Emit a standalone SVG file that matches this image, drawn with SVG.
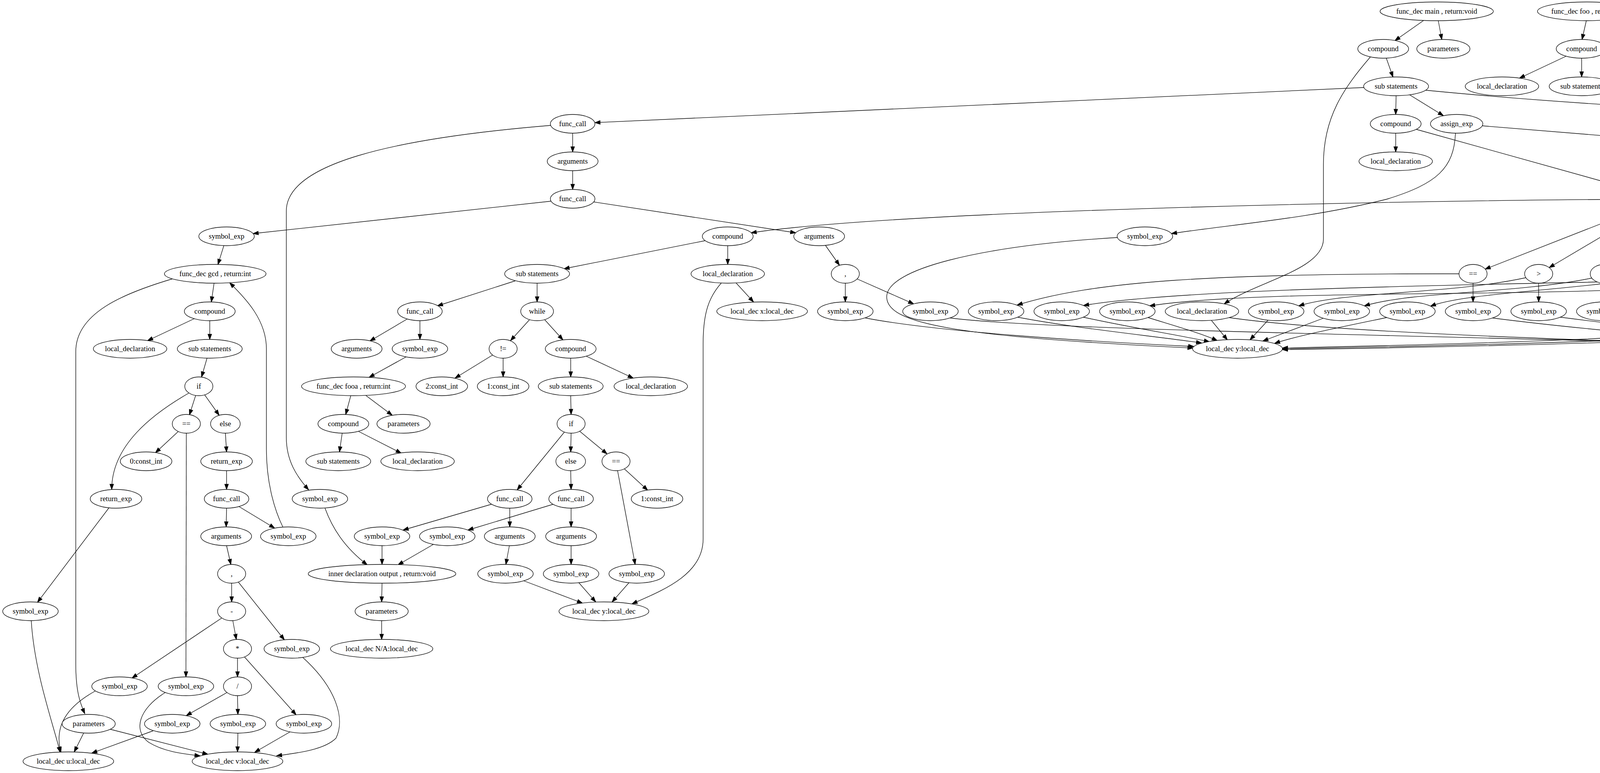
<svg xmlns="http://www.w3.org/2000/svg" width="6137" height="1979" viewBox="0 0 6137 1979">
<style>
ellipse{fill:#fff;stroke:#000;stroke-width:1.33}
text{font-family:"Liberation Serif","Times New Roman",serif;font-size:18.67px;text-anchor:middle;fill:#000}
#edges path{fill:none;stroke:#000;stroke-width:1.33;marker-end:url(#ah)}
</style>
<defs>
<marker id="ah" markerUnits="userSpaceOnUse" markerWidth="16" markerHeight="12" refX="13.3" refY="4.67" orient="auto" overflow="visible"><path d="M0,0 L13.3,4.67 L0,9.33 Z" fill="#000" stroke="#000" stroke-width="1.33"/></marker>
</defs>
<rect width="6137" height="1979" fill="#fff"/>
<g id="edges">
<path d="M3645,52 L3571,104"/>
<path d="M3682,53 L3691,101"/>
<path d="M3549,149 L3566,197"/>
<path d="M3508,146 C3440,225 3388,300 3388,420 L3388,612 C3388,690 3220,720 3134,778"/>
<path d="M3492,224 L1523,314"/>
<path d="M3574,245 L3573,293"/>
<path d="M3609,243 L3695,296"/>
<path d="M3650,231 C4100,275 4700,305 5306,315"/>
<path d="M1466,341 L1466,389"/>
<path d="M1410,321 C1000,355 733,420 733,540 L733,1120 C733,1180 760,1220 790,1254"/>
<path d="M1466,437 L1466,485"/>
<path d="M1411,515 L648,598"/>
<path d="M1520,517 L2037,596"/>
<path d="M573,629 L558,677"/>
<path d="M548,725 L541,773"/>
<path d="M441,714 C320,750 194,800 194,900 L194,1700 C194,1770 205,1800 217,1827"/>
<path d="M724,1349 C700,1300 682,1230 682,1150 L682,893 C682,820 630,765 588,724"/>
<path d="M497,816 L378,872"/>
<path d="M537,821 L537,869"/>
<path d="M530,917 L516,965"/>
<path d="M501,1012 L485,1062"/>
<path d="M524,1011 L561,1063"/>
<path d="M484,1006 C390,1060 286,1140 286,1253"/>
<path d="M456,1105 L398,1159"/>
<path d="M477,1109 L476,1733"/>
<path d="M577,1109 L580,1157"/>
<path d="M580,1205 L580,1253"/>
<path d="M580,1301 L579,1349"/>
<path d="M612,1297 L703,1352"/>
<path d="M580,1397 L591,1445"/>
<path d="M593,1493 L593,1541"/>
<path d="M610,1490 L728,1638"/>
<path d="M596,1589 L605,1637"/>
<path d="M568,1582 L338,1736"/>
<path d="M608,1685 L608,1733"/>
<path d="M626,1682 L758,1830"/>
<path d="M581,1773 L477,1832"/>
<path d="M608,1781 L609,1829"/>
<path d="M279,1300 L96,1542"/>
<path d="M80,1589 C88,1720 135,1850 154,1926"/>
<path d="M244,1769 C170,1810 138,1860 156,1926"/>
<path d="M214,1877 L190,1925"/>
<path d="M282,1867 L532,1931"/>
<path d="M392,1871 L235,1928"/>
<path d="M423,1773 C355,1815 340,1870 380,1900 C420,1925 470,1930 512,1935"/>
<path d="M609,1877 L608,1925"/>
<path d="M742,1874 L652,1926"/>
<path d="M775,1683 C860,1760 885,1840 860,1890 C830,1920 760,1928 708,1935"/>
<path d="M4179,510 C3500,515 2300,540 1923,596"/>
<path d="M1806,616 L1444,688"/>
<path d="M1863,629 L1863,677"/>
<path d="M1884,724 L1929,773"/>
<path d="M1847,724 C1815,760 1800,800 1800,880 L1800,1380 C1800,1470 1700,1510 1618,1546"/>
<path d="M1319,719 L1120,783"/>
<path d="M1375,725 L1375,773"/>
<path d="M1042,817 L947,873"/>
<path d="M1075,821 L1075,869"/>
<path d="M1039,914 L945,966"/>
<path d="M898,1013 L885,1061"/>
<path d="M936,1012 L1004,1063"/>
<path d="M876,1109 L869,1157"/>
<path d="M917,1104 L1027,1160"/>
<path d="M1356,818 L1307,872"/>
<path d="M1394,818 L1441,870"/>
<path d="M1261,909 L1165,968"/>
<path d="M1288,917 L1288,965"/>
<path d="M1461,917 L1461,965"/>
<path d="M1501,912 L1621,968"/>
<path d="M1461,1013 L1462,1061"/>
<path d="M1445,1106 L1324,1254"/>
<path d="M1462,1109 L1461,1157"/>
<path d="M1484,1104 L1554,1162"/>
<path d="M1461,1205 L1462,1253"/>
<path d="M1598,1200 L1658,1255"/>
<path d="M1581,1205 L1626,1445"/>
<path d="M1258,1291 L1032,1357"/>
<path d="M1305,1301 L1305,1349"/>
<path d="M1416,1291 L1198,1357"/>
<path d="M1462,1301 L1462,1349"/>
<path d="M1304,1397 L1295,1445"/>
<path d="M1462,1397 L1462,1445"/>
<path d="M978,1397 L978,1445"/>
<path d="M1109,1394 L1019,1446"/>
<path d="M832,1301 C850,1350 880,1400 940,1446"/>
<path d="M978,1493 L977,1541"/>
<path d="M977,1589 L977,1637"/>
<path d="M1341,1487 L1491,1544"/>
<path d="M1482,1492 L1525,1541"/>
<path d="M1610,1492 L1567,1541"/>
<path d="M2113,628 L2149,679"/>
<path d="M2164,725 L2164,773"/>
<path d="M2194,714 L2339,778"/>
<path d="M2861,608 C2500,630 2270,690 2270,760 C2270,830 2450,862 3054,891"/>
<path d="M2215,814 C2400,850 2800,875 3056,887"/>
<path d="M2432,814 C2700,850 4000,862 4660,892"/>
<path d="M3735,701 C3100,700 2800,720 2604,781"/>
<path d="M4208,712 C4000,745 3750,750 3662,784"/>
<path d="M4480,711 C4150,775 3300,730 2943,783"/>
<path d="M3906,711 C3700,755 3450,745 3325,783"/>
<path d="M4075,712 C3880,752 3620,745 3493,783"/>
<path d="M4308,717 C3900,728 3050,735 2774,782"/>
<path d="M3771,725 L3771,773"/>
<path d="M3939,725 L3939,773"/>
<path d="M4107,725 L4107,773"/>
<path d="M4249,724 L4267,773"/>
<path d="M4357,720 L4418,775"/>
<path d="M4533,721 L4584,774"/>
<path d="M4513,629 L4513,677"/>
<path d="M4548,611 L5041,690"/>
<path d="M4312,528 L4482,593"/>
<path d="M4213,528 L3802,689"/>
<path d="M4226,531 L3966,685"/>
<path d="M4243,532 L4124,680"/>
<path d="M4259,533 L4243,677"/>
<path d="M4271,533 L4326,678"/>
<path d="M4335,520 C4550,550 4700,600 4748,682"/>
<path d="M4340,517 C4650,550 4850,600 4916,682"/>
<path d="M4342,516 C4700,550 5050,620 5247,684"/>
<path d="M4343,514 C4800,560 5200,640 5565,691"/>
<path d="M4769,725 L4769,773"/>
<path d="M4802,711 L5051,782"/>
<path d="M4937,725 L4937,773"/>
<path d="M4970,709 C5100,740 5300,745 5388,781"/>
<path d="M5273,725 L5273,773"/>
<path d="M5307,709 L5602,783"/>
<path d="M5629,714 L5783,778"/>
<path d="M5624,718 C5700,750 5860,755 5937,783"/>
<path d="M5516,627 L5677,684"/>
<path d="M5373,341 L5373,389"/>
<path d="M5435,326 L5992,404"/>
<path d="M5354,436 L5312,486"/>
<path d="M5392,436 L5434,486"/>
<path d="M5453,533 L5452,581"/>
<path d="M4902,437 L4901,485"/>
<path d="M4940,431 L5067,490"/>
<path d="M5164,524 L5375,584"/>
<path d="M3794,322 L4846,408"/>
<path d="M3726,341 C3722,430 3680,470 3550,510 C3350,560 3150,575 2999,598"/>
<path d="M6068,437 C6095,530 6108,620 6108,720 C6108,790 6100,820 6040,832 C5700,860 5200,880 4889,890"/>
<path d="M5165,714 C5450,745 5560,770 5545,810 C5520,850 5200,870 4886,887"/>
<path d="M3573,341 L3573,389"/>
<path d="M3625,331 L4202,492"/>
<path d="M4061,53 L4050,101"/>
<path d="M4132,49 L4347,110"/>
<path d="M4009,144 L3890,200"/>
<path d="M4049,149 L4049,197"/>
<path d="M4371,147 L4303,198"/>
<path d="M4429,147 L4497,198"/>
<path d="M4456,139 L4711,203"/>
<path d="M5240,53 L5203,102"/>
<path d="M5278,53 L5320,102"/>
<path d="M5151,145 L5059,199"/>
<path d="M5196,149 L5215,197"/>
<path d="M5603,53 L5563,102"/>
<path d="M5641,53 L5680,102"/>
<path d="M5535,149 L5516,197"/>
<path d="M5580,145 L5673,200"/>
<path d="M2605,812 C2750,840 2950,860 3076,878"/>
<path d="M2773,812 C2900,840 3020,858 3096,875"/>
<path d="M2939,813 C3010,835 3080,855 3116,872"/>
<path d="M3101,820 L3142,870"/>
<path d="M3146,813 C3400,850 4000,870 4661,890"/>
<path d="M3246,820 L3200,870"/>
<path d="M3387,815 L3233,873"/>
<path d="M3550,813 C3420,840 3320,860 3263,879"/>
<path d="M3820,814 C4100,850 4450,875 4662,888"/>
<path d="M3994,812 C4250,845 4500,870 4664,887"/>
<path d="M4160,813 C4400,840 4580,860 4670,883"/>
<path d="M4330,812 C4500,835 4620,855 4686,878"/>
<path d="M4496,813 L4713,873"/>
<path d="M4715,813 C4500,860 3800,880 3283,891"/>
<path d="M4880,812 C4600,865 3900,882 3283,893"/>
<path d="M5218,812 C4950,855 4000,885 3283,895"/>
<path d="M5050,812 L4846,874"/>
<path d="M5388,812 C5200,860 5000,880 4889,889"/>
<path d="M5603,812 C5400,865 5100,880 4890,890"/>
<path d="M5775,812 C5500,865 5150,884 4890,891"/>
<path d="M5940,811 C5650,868 5200,886 4890,892"/>
</g>
<g id="n1"><ellipse cx="3678" cy="29" rx="145" ry="24"/><text x="3678" y="35">func_dec main , return:void</text></g>
<g id="n2"><ellipse cx="3541" cy="125" rx="65" ry="24"/><text x="3541" y="131">compound</text></g>
<g id="n3"><ellipse cx="3695" cy="125" rx="68" ry="24"/><text x="3695" y="131">parameters</text></g>
<g id="n4"><ellipse cx="3574" cy="221" rx="83" ry="24"/><text x="3574" y="227">sub statements</text></g>
<g id="n5"><ellipse cx="1466" cy="317" rx="57" ry="24"/><text x="1466" y="323">func_call</text></g>
<g id="n6"><ellipse cx="3573" cy="317" rx="65" ry="24"/><text x="3573" y="323">compound</text></g>
<g id="n7"><ellipse cx="3729" cy="317" rx="67" ry="24"/><text x="3729" y="323">assign_exp</text></g>
<g id="n8"><ellipse cx="5373" cy="317" rx="67" ry="24"/><text x="5373" y="323">assign_exp</text></g>
<g id="n9"><ellipse cx="1466" cy="413" rx="65" ry="24"/><text x="1466" y="419">arguments</text></g>
<g id="n10"><ellipse cx="3573" cy="413" rx="94" ry="24"/><text x="3573" y="419">local_declaration</text></g>
<g id="n11"><ellipse cx="4902" cy="413" rx="57" ry="24"/><text x="4902" y="419">func_call</text></g>
<g id="n12"><ellipse cx="5373" cy="413" rx="57" ry="24"/><text x="5373" y="419">func_call</text></g>
<g id="n13"><ellipse cx="6058" cy="413" rx="71" ry="24"/><text x="6058" y="419">symbol_exp</text></g>
<g id="n14"><ellipse cx="1466" cy="509" rx="57" ry="24"/><text x="1466" y="515">func_call</text></g>
<g id="n15"><ellipse cx="4262" cy="509" rx="83" ry="24"/><text x="4262" y="515">sub statements</text></g>
<g id="n16"><ellipse cx="4901" cy="509" rx="65" ry="24"/><text x="4901" y="515">arguments</text></g>
<g id="n17"><ellipse cx="5109" cy="509" rx="71" ry="24"/><text x="5109" y="515">symbol_exp</text></g>
<g id="n18"><ellipse cx="5293" cy="509" rx="65" ry="24"/><text x="5293" y="515">arguments</text></g>
<g id="n19"><ellipse cx="5453" cy="509" rx="71" ry="24"/><text x="5453" y="515">symbol_exp</text></g>
<g id="n20"><ellipse cx="580" cy="605" rx="71" ry="24"/><text x="580" y="611">symbol_exp</text></g>
<g id="n21"><ellipse cx="1863" cy="605" rx="65" ry="24"/><text x="1863" y="611">compound</text></g>
<g id="n22"><ellipse cx="2097" cy="605" rx="65" ry="24"/><text x="2097" y="611">arguments</text></g>
<g id="n23"><ellipse cx="2931" cy="605" rx="71" ry="24"/><text x="2931" y="611">symbol_exp</text></g>
<g id="n24"><ellipse cx="4513" cy="605" rx="36" ry="24"/><text x="4513" y="611">&gt;=</text></g>
<g id="n25"><ellipse cx="5452" cy="605" rx="174" ry="24"/><text x="5452" y="611">inner declaration input , return:int</text></g>
<g id="n26"><ellipse cx="551" cy="701" rx="130" ry="24"/><text x="551" y="707">func_dec gcd , return:int</text></g>
<g id="n27"><ellipse cx="1375" cy="701" rx="83" ry="24"/><text x="1375" y="707">sub statements</text></g>
<g id="n28"><ellipse cx="1863" cy="701" rx="94" ry="24"/><text x="1863" y="707">local_declaration</text></g>
<g id="n29"><ellipse cx="2164" cy="701" rx="36" ry="24"/><text x="2164" y="707">,</text></g>
<g id="n30"><ellipse cx="3771" cy="701" rx="36" ry="24"/><text x="3771" y="707">==</text></g>
<g id="n31"><ellipse cx="3939" cy="701" rx="36" ry="24"/><text x="3939" y="707">&gt;</text></g>
<g id="n32"><ellipse cx="4107" cy="701" rx="36" ry="24"/><text x="4107" y="707">&lt;</text></g>
<g id="n33"><ellipse cx="4240" cy="701" rx="36" ry="24"/><text x="4240" y="707">-</text></g>
<g id="n34"><ellipse cx="4335" cy="701" rx="36" ry="24"/><text x="4335" y="707">/</text></g>
<g id="n35"><ellipse cx="4513" cy="701" rx="36" ry="24"/><text x="4513" y="707">*</text></g>
<g id="n36"><ellipse cx="4769" cy="701" rx="36" ry="24"/><text x="4769" y="707">+</text></g>
<g id="n37"><ellipse cx="4937" cy="701" rx="36" ry="24"/><text x="4937" y="707">&lt;=</text></g>
<g id="n38"><ellipse cx="5105" cy="701" rx="71" ry="24"/><text x="5105" y="707">symbol_exp</text></g>
<g id="n39"><ellipse cx="5273" cy="701" rx="36" ry="24"/><text x="5273" y="707">*</text></g>
<g id="n40"><ellipse cx="5598" cy="701" rx="36" ry="24"/><text x="5598" y="707">!=</text></g>
<g id="n41"><ellipse cx="5725" cy="701" rx="68" ry="24"/><text x="5725" y="707">parameters</text></g>
<g id="n42"><ellipse cx="537" cy="797" rx="65" ry="24"/><text x="537" y="803">compound</text></g>
<g id="n43"><ellipse cx="1075" cy="797" rx="57" ry="24"/><text x="1075" y="803">func_call</text></g>
<g id="n44"><ellipse cx="1375" cy="797" rx="42" ry="24"/><text x="1375" y="803">while</text></g>
<g id="n45"><ellipse cx="1951" cy="797" rx="116" ry="24"/><text x="1951" y="803">local_dec x:local_dec</text></g>
<g id="n46"><ellipse cx="2164" cy="797" rx="71" ry="24"/><text x="2164" y="803">symbol_exp</text></g>
<g id="n47"><ellipse cx="2382" cy="797" rx="71" ry="24"/><text x="2382" y="803">symbol_exp</text></g>
<g id="n48"><ellipse cx="2550" cy="797" rx="71" ry="24"/><text x="2550" y="803">symbol_exp</text></g>
<g id="n49"><ellipse cx="2718" cy="797" rx="71" ry="24"/><text x="2718" y="803">symbol_exp</text></g>
<g id="n50"><ellipse cx="2886" cy="797" rx="71" ry="24"/><text x="2886" y="803">symbol_exp</text></g>
<g id="n51"><ellipse cx="3077" cy="797" rx="94" ry="24"/><text x="3077" y="803">local_declaration</text></g>
<g id="n52"><ellipse cx="3267" cy="797" rx="71" ry="24"/><text x="3267" y="803">symbol_exp</text></g>
<g id="n53"><ellipse cx="3435" cy="797" rx="71" ry="24"/><text x="3435" y="803">symbol_exp</text></g>
<g id="n54"><ellipse cx="3603" cy="797" rx="71" ry="24"/><text x="3603" y="803">symbol_exp</text></g>
<g id="n55"><ellipse cx="3771" cy="797" rx="71" ry="24"/><text x="3771" y="803">symbol_exp</text></g>
<g id="n56"><ellipse cx="3939" cy="797" rx="71" ry="24"/><text x="3939" y="803">symbol_exp</text></g>
<g id="n57"><ellipse cx="4107" cy="797" rx="71" ry="24"/><text x="4107" y="803">symbol_exp</text></g>
<g id="n58"><ellipse cx="4276" cy="797" rx="71" ry="24"/><text x="4276" y="803">symbol_exp</text></g>
<g id="n59"><ellipse cx="4443" cy="797" rx="71" ry="24"/><text x="4443" y="803">symbol_exp</text></g>
<g id="n60"><ellipse cx="4606" cy="797" rx="66" ry="24"/><text x="4606" y="803">2:const_int</text></g>
<g id="n61"><ellipse cx="4769" cy="797" rx="71" ry="24"/><text x="4769" y="803">symbol_exp</text></g>
<g id="n62"><ellipse cx="4937" cy="797" rx="71" ry="24"/><text x="4937" y="803">symbol_exp</text></g>
<g id="n63"><ellipse cx="5105" cy="797" rx="71" ry="24"/><text x="5105" y="803">symbol_exp</text></g>
<g id="n64"><ellipse cx="5273" cy="797" rx="71" ry="24"/><text x="5273" y="803">symbol_exp</text></g>
<g id="n65"><ellipse cx="5441" cy="797" rx="71" ry="24"/><text x="5441" y="803">symbol_exp</text></g>
<g id="n66"><ellipse cx="5659" cy="797" rx="71" ry="24"/><text x="5659" y="803">symbol_exp</text></g>
<g id="n67"><ellipse cx="5828" cy="797" rx="71" ry="24"/><text x="5828" y="803">symbol_exp</text></g>
<g id="n68"><ellipse cx="5995" cy="797" rx="71" ry="24"/><text x="5995" y="803">symbol_exp</text></g>
<g id="n69"><ellipse cx="333" cy="893" rx="94" ry="24"/><text x="333" y="899">local_declaration</text></g>
<g id="n70"><ellipse cx="537" cy="893" rx="83" ry="24"/><text x="537" y="899">sub statements</text></g>
<g id="n71"><ellipse cx="913" cy="893" rx="65" ry="24"/><text x="913" y="899">arguments</text></g>
<g id="n72"><ellipse cx="1075" cy="893" rx="71" ry="24"/><text x="1075" y="899">symbol_exp</text></g>
<g id="n73"><ellipse cx="1288" cy="893" rx="36" ry="24"/><text x="1288" y="899">!=</text></g>
<g id="n74"><ellipse cx="1461" cy="893" rx="65" ry="24"/><text x="1461" y="899">compound</text></g>
<g id="n75"><ellipse cx="3168" cy="893" rx="115" ry="24"/><text x="3168" y="899">local_dec y:local_dec</text></g>
<g id="n76"><ellipse cx="4775" cy="893" rx="115" ry="24"/><text x="4775" y="899">local_dec x:local_dec</text></g>
<g id="n77"><ellipse cx="509" cy="989" rx="36" ry="24"/><text x="509" y="995">if</text></g>
<g id="n78"><ellipse cx="905" cy="989" rx="133" ry="24"/><text x="905" y="995">func_dec fooa , return:int</text></g>
<g id="n79"><ellipse cx="1131" cy="989" rx="66" ry="24"/><text x="1131" y="995">2:const_int</text></g>
<g id="n80"><ellipse cx="1288" cy="989" rx="66" ry="24"/><text x="1288" y="995">1:const_int</text></g>
<g id="n81"><ellipse cx="1461" cy="989" rx="83" ry="24"/><text x="1461" y="995">sub statements</text></g>
<g id="n82"><ellipse cx="1666" cy="989" rx="94" ry="24"/><text x="1666" y="995">local_declaration</text></g>
<g id="n83"><ellipse cx="477" cy="1085" rx="36" ry="24"/><text x="477" y="1091">==</text></g>
<g id="n84"><ellipse cx="577" cy="1085" rx="38" ry="24"/><text x="577" y="1091">else</text></g>
<g id="n85"><ellipse cx="879" cy="1085" rx="65" ry="24"/><text x="879" y="1091">compound</text></g>
<g id="n86"><ellipse cx="1033" cy="1085" rx="68" ry="24"/><text x="1033" y="1091">parameters</text></g>
<g id="n87"><ellipse cx="1462" cy="1085" rx="36" ry="24"/><text x="1462" y="1091">if</text></g>
<g id="n88"><ellipse cx="374" cy="1181" rx="66" ry="24"/><text x="374" y="1187">0:const_int</text></g>
<g id="n89"><ellipse cx="580" cy="1181" rx="66" ry="24"/><text x="580" y="1187">return_exp</text></g>
<g id="n90"><ellipse cx="866" cy="1181" rx="83" ry="24"/><text x="866" y="1187">sub statements</text></g>
<g id="n91"><ellipse cx="1069" cy="1181" rx="94" ry="24"/><text x="1069" y="1187">local_declaration</text></g>
<g id="n92"><ellipse cx="1461" cy="1181" rx="38" ry="24"/><text x="1461" y="1187">else</text></g>
<g id="n93"><ellipse cx="1577" cy="1181" rx="36" ry="24"/><text x="1577" y="1187">==</text></g>
<g id="n94"><ellipse cx="297" cy="1277" rx="66" ry="24"/><text x="297" y="1283">return_exp</text></g>
<g id="n95"><ellipse cx="580" cy="1277" rx="57" ry="24"/><text x="580" y="1283">func_call</text></g>
<g id="n96"><ellipse cx="819" cy="1277" rx="71" ry="24"/><text x="819" y="1283">symbol_exp</text></g>
<g id="n97"><ellipse cx="1305" cy="1277" rx="57" ry="24"/><text x="1305" y="1283">func_call</text></g>
<g id="n98"><ellipse cx="1462" cy="1277" rx="57" ry="24"/><text x="1462" y="1283">func_call</text></g>
<g id="n99"><ellipse cx="1682" cy="1277" rx="66" ry="24"/><text x="1682" y="1283">1:const_int</text></g>
<g id="n100"><ellipse cx="579" cy="1373" rx="65" ry="24"/><text x="579" y="1379">arguments</text></g>
<g id="n101"><ellipse cx="738" cy="1373" rx="71" ry="24"/><text x="738" y="1379">symbol_exp</text></g>
<g id="n102"><ellipse cx="978" cy="1373" rx="71" ry="24"/><text x="978" y="1379">symbol_exp</text></g>
<g id="n103"><ellipse cx="1145" cy="1373" rx="71" ry="24"/><text x="1145" y="1379">symbol_exp</text></g>
<g id="n104"><ellipse cx="1305" cy="1373" rx="65" ry="24"/><text x="1305" y="1379">arguments</text></g>
<g id="n105"><ellipse cx="1462" cy="1373" rx="65" ry="24"/><text x="1462" y="1379">arguments</text></g>
<g id="n106"><ellipse cx="593" cy="1469" rx="36" ry="24"/><text x="593" y="1475">,</text></g>
<g id="n107"><ellipse cx="978" cy="1469" rx="189" ry="24"/><text x="978" y="1475">inner declaration output , return:void</text></g>
<g id="n108"><ellipse cx="1294" cy="1469" rx="71" ry="24"/><text x="1294" y="1475">symbol_exp</text></g>
<g id="n109"><ellipse cx="1462" cy="1469" rx="71" ry="24"/><text x="1462" y="1475">symbol_exp</text></g>
<g id="n110"><ellipse cx="1630" cy="1469" rx="71" ry="24"/><text x="1630" y="1475">symbol_exp</text></g>
<g id="n111"><ellipse cx="78" cy="1565" rx="71" ry="24"/><text x="78" y="1571">symbol_exp</text></g>
<g id="n112"><ellipse cx="593" cy="1565" rx="36" ry="24"/><text x="593" y="1571">-</text></g>
<g id="n113"><ellipse cx="977" cy="1565" rx="68" ry="24"/><text x="977" y="1571">parameters</text></g>
<g id="n114"><ellipse cx="1546" cy="1565" rx="115" ry="24"/><text x="1546" y="1571">local_dec y:local_dec</text></g>
<g id="n115"><ellipse cx="608" cy="1661" rx="36" ry="24"/><text x="608" y="1667">*</text></g>
<g id="n116"><ellipse cx="747" cy="1661" rx="71" ry="24"/><text x="747" y="1667">symbol_exp</text></g>
<g id="n117"><ellipse cx="977" cy="1661" rx="131" ry="24"/><text x="977" y="1667">local_dec N/A:local_dec</text></g>
<g id="n118"><ellipse cx="306" cy="1757" rx="71" ry="24"/><text x="306" y="1763">symbol_exp</text></g>
<g id="n119"><ellipse cx="476" cy="1757" rx="71" ry="24"/><text x="476" y="1763">symbol_exp</text></g>
<g id="n120"><ellipse cx="608" cy="1757" rx="36" ry="24"/><text x="608" y="1763">/</text></g>
<g id="n121"><ellipse cx="227" cy="1853" rx="68" ry="24"/><text x="227" y="1859">parameters</text></g>
<g id="n122"><ellipse cx="441" cy="1853" rx="71" ry="24"/><text x="441" y="1859">symbol_exp</text></g>
<g id="n123"><ellipse cx="609" cy="1853" rx="71" ry="24"/><text x="609" y="1859">symbol_exp</text></g>
<g id="n124"><ellipse cx="778" cy="1853" rx="71" ry="24"/><text x="778" y="1859">symbol_exp</text></g>
<g id="n125"><ellipse cx="175" cy="1949" rx="116" ry="24"/><text x="175" y="1955">local_dec u:local_dec</text></g>
<g id="n126"><ellipse cx="608" cy="1949" rx="116" ry="24"/><text x="608" y="1955">local_dec v:local_dec</text></g>
<g id="n127"><ellipse cx="4062" cy="29" rx="126" ry="24"/><text x="4062" y="35">func_dec foo , return:int</text></g>
<g id="n128"><ellipse cx="4049" cy="125" rx="65" ry="24"/><text x="4049" y="131">compound</text></g>
<g id="n129"><ellipse cx="4400" cy="125" rx="68" ry="24"/><text x="4400" y="131">parameters</text></g>
<g id="n130"><ellipse cx="3845" cy="221" rx="94" ry="24"/><text x="3845" y="227">local_declaration</text></g>
<g id="n131"><ellipse cx="4049" cy="221" rx="83" ry="24"/><text x="4049" y="227">sub statements</text></g>
<g id="n132"><ellipse cx="4272" cy="221" rx="115" ry="24"/><text x="4272" y="227">local_dec x:local_dec</text></g>
<g id="n133"><ellipse cx="4528" cy="221" rx="115" ry="24"/><text x="4528" y="227">local_dec y:local_dec</text></g>
<g id="n134"><ellipse cx="4785" cy="221" rx="115" ry="24"/><text x="4785" y="227">local_dec z:local_dec</text></g>
<g id="n135"><ellipse cx="5258" cy="29" rx="124" ry="24"/><text x="5258" y="35">func_dec fo , return:int</text></g>
<g id="n136"><ellipse cx="5186" cy="125" rx="65" ry="24"/><text x="5186" y="131">compound</text></g>
<g id="n137"><ellipse cx="5340" cy="125" rx="68" ry="24"/><text x="5340" y="131">parameters</text></g>
<g id="n138"><ellipse cx="5021" cy="221" rx="94" ry="24"/><text x="5021" y="227">local_declaration</text></g>
<g id="n139"><ellipse cx="5225" cy="221" rx="83" ry="24"/><text x="5225" y="227">sub statements</text></g>
<g id="n140"><ellipse cx="5622" cy="29" rx="144" ry="24"/><text x="5622" y="35">func_dec foob , return:void</text></g>
<g id="n141"><ellipse cx="5545" cy="125" rx="65" ry="24"/><text x="5545" y="131">compound</text></g>
<g id="n142"><ellipse cx="5699" cy="125" rx="68" ry="24"/><text x="5699" y="131">parameters</text></g>
<g id="n143"><ellipse cx="5506" cy="221" rx="94" ry="24"/><text x="5506" y="227">local_declaration</text></g>
<g id="n144"><ellipse cx="5710" cy="221" rx="83" ry="24"/><text x="5710" y="227">sub statements</text></g>
</svg>
